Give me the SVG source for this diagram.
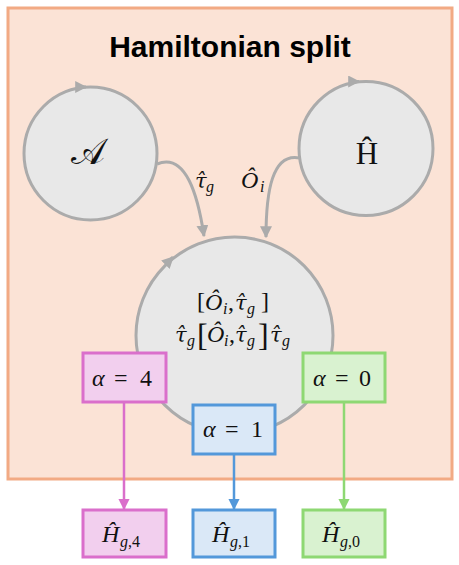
<svg xmlns="http://www.w3.org/2000/svg" width="459" height="565" viewBox="0 0 459 565">
<defs>
<style>
.frame{fill:#FBE3D6;stroke:#F2AA84;stroke-width:3}
.title{font-family:"Liberation Sans",Arial,sans-serif;font-weight:bold;font-size:30px;fill:#000}
.circ{fill:#E8E8E8;stroke:#ABABAB;stroke-width:3}
.conn{fill:none;stroke:#ABABAB;stroke-width:3}
.m{font-family:"Liberation Serif","DejaVu Serif",serif;font-size:24px;fill:#111}
.t{font-family:"DejaVu Serif",serif;font-style:italic;font-size:21px}
.i{font-style:italic}
.sub{font-size:16px}
.big{font-size:32px}
.pinkbox{fill:#F2CFEE;stroke:#DA6FCB;stroke-width:3}
.bluebox{fill:#DAE8F7;stroke:#5398DA;stroke-width:3}
.greenbox{fill:#D9F2D0;stroke:#8ED873;stroke-width:3}
.pinkl{stroke:#DA6FCB;stroke-width:2.5;fill:none}
.bluel{stroke:#5398DA;stroke-width:2.5;fill:none}
.greenl{stroke:#8ED873;stroke-width:2.5;fill:none}
</style>
<marker id="ag" viewBox="0 0 10 10" refX="9" refY="5" markerWidth="4" markerHeight="4" orient="auto" markerUnits="strokeWidth"><path d="M0,0 L10,5 L0,10 z" fill="#ABABAB"/></marker>
<marker id="ap" viewBox="0 0 10 10" refX="9" refY="5" markerWidth="4.5" markerHeight="4.5" orient="auto" markerUnits="strokeWidth"><path d="M0,0 L10,5 L0,10 z" fill="#DA6FCB"/></marker>
<marker id="ab" viewBox="0 0 10 10" refX="9" refY="5" markerWidth="4.5" markerHeight="4.5" orient="auto" markerUnits="strokeWidth"><path d="M0,0 L10,5 L0,10 z" fill="#5398DA"/></marker>
<marker id="agr" viewBox="0 0 10 10" refX="9" refY="5" markerWidth="4.5" markerHeight="4.5" orient="auto" markerUnits="strokeWidth"><path d="M0,0 L10,5 L0,10 z" fill="#8ED873"/></marker>
</defs>

<g id="frame">
<rect class="frame" x="8" y="8" width="444" height="471"/>
<text class="title" x="230" y="57" text-anchor="middle">Hamiltonian split</text>
</g>

<g id="node-A">
<circle class="circ" cx="90.5" cy="153.5" r="66.5"/>
<path class="conn" d="M78,87 L86,87" marker-end="url(#ag)"/>
<text class="m" x="88" y="164" text-anchor="middle" style="font-size:36px">𝒜</text>
</g>

<g id="node-H">
<circle class="circ" cx="366" cy="148.5" r="67"/>
<path class="conn" d="M351,81.5 L359,81.5" marker-end="url(#ag)"/>
<text class="m" x="367" y="164" text-anchor="middle" style="font-size:31px">Ĥ</text>
</g>

<g id="node-center">
<circle class="circ" cx="234.5" cy="335.5" r="98.5"/>
<path class="conn" d="M166,264 L173,257" marker-end="url(#ag)"/>
<text class="m"><tspan x="197" y="309">[</tspan><tspan class="i" x="205" y="310">Ô</tspan><tspan class="sub i" x="223" y="314">i</tspan><tspan x="228" y="310">,</tspan><tspan class="t" x="235" y="310">τ̂</tspan><tspan class="sub i" x="247" y="314">g</tspan><tspan x="261" y="309">]</tspan></text>
<text class="m"><tspan class="t" x="175" y="342">τ̂</tspan><tspan class="sub i" x="187" y="346">g</tspan><tspan class="big" x="197" y="346">[</tspan><tspan class="i" x="207" y="342">Ô</tspan><tspan class="sub i" x="224" y="346">i</tspan><tspan x="229" y="342">,</tspan><tspan class="t" x="235" y="342">τ̂</tspan><tspan class="sub i" x="247" y="346">g</tspan><tspan class="big" x="258" y="346">]</tspan><tspan class="t" x="270" y="342">τ̂</tspan><tspan class="sub i" x="282" y="346">g</tspan></text>
</g>

<g id="connectors">
<path class="conn" d="M157,164 C186,152 198,196 204,236" marker-end="url(#ag)"/>
<path class="conn" d="M300,158 C272,152 266,192 266,237" marker-end="url(#ag)"/>
<text class="m"><tspan class="t" x="195" y="188">τ̂</tspan><tspan class="sub i" x="206" y="192">g</tspan></text>
<text class="m"><tspan class="i" x="241" y="188">Ô</tspan><tspan class="sub i" x="260" y="192">i</tspan></text>
<path class="pinkl" d="M124,402 L124,509" marker-end="url(#ap)"/>
<path class="bluel" d="M234,454 L234,509" marker-end="url(#ab)"/>
<path class="greenl" d="M344,402 L344,509" marker-end="url(#agr)"/>
</g>

<g id="alpha4">
<rect class="pinkbox" x="83" y="353" width="83" height="49"/>
<text class="m"><tspan class="i" x="92" y="386">α</tspan><tspan x="114" y="386">=</tspan><tspan x="140" y="386">4</tspan></text>
</g>
<g id="alpha1">
<rect class="bluebox" x="193" y="405" width="82" height="49"/>
<text class="m"><tspan class="i" x="203" y="437">α</tspan><tspan x="225" y="437">=</tspan><tspan x="251" y="437">1</tspan></text>
</g>
<g id="alpha0">
<rect class="greenbox" x="303" y="353" width="82" height="49"/>
<text class="m"><tspan class="i" x="313" y="386">α</tspan><tspan x="335" y="386">=</tspan><tspan x="359" y="386">0</tspan></text>
</g>

<g id="Hg4">
<rect class="pinkbox" x="83" y="510" width="83" height="47"/>
<text class="m"><tspan class="i" x="102" y="542">Ĥ</tspan><tspan class="sub i" x="120" y="547">g</tspan><tspan class="sub" x="128" y="547">,4</tspan></text>
</g>
<g id="Hg1">
<rect class="bluebox" x="193" y="510" width="82" height="47"/>
<text class="m"><tspan class="i" x="212" y="542">Ĥ</tspan><tspan class="sub i" x="230" y="547">g</tspan><tspan class="sub" x="238" y="547">,1</tspan></text>
</g>
<g id="Hg0">
<rect class="greenbox" x="303" y="510" width="82" height="47"/>
<text class="m"><tspan class="i" x="322" y="542">Ĥ</tspan><tspan class="sub i" x="340" y="547">g</tspan><tspan class="sub" x="348" y="547">,0</tspan></text>
</g>
</svg>
